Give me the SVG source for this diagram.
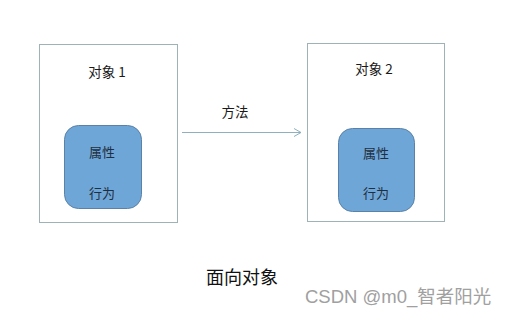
<svg xmlns="http://www.w3.org/2000/svg" width="510" height="312" viewBox="0 0 510 312">
<style>
.obj{fill:#ffffff;stroke:#9db3b8;stroke-width:1}
.inner{fill:#6fa6d8;stroke:#5b82a6;stroke-width:1}
.t{font-family:"Noto Sans CJK SC",sans-serif;font-size:13.5px;fill:#1a1a1a;text-anchor:middle}
.ti{font-family:"Noto Sans CJK SC",sans-serif;font-size:13px;fill:#1f2f40;text-anchor:middle}
.conn{stroke:#8fb0bc;stroke-width:1;fill:none}
</style>
<defs>
<marker id="arr" markerWidth="10" markerHeight="10" refX="8" refY="5" orient="auto" markerUnits="userSpaceOnUse">
<path d="M1,1 L8,5 L1,9" fill="none" stroke="#8fb0bc" stroke-width="1"/>
</marker>
</defs>
<rect width="510" height="312" fill="#ffffff"/>
<g id="obj1">
<rect class="obj" x="39.5" y="44.5" width="138" height="178"/>
<text class="t" x="107" y="77">对象 1</text>
<g id="obj1-inner">
<rect class="inner" x="64.5" y="125.5" width="77" height="83" rx="14"/>
<text class="ti" x="102" y="157">属性</text>
<text class="ti" x="102" y="198">行为</text>
</g>
</g>
<g id="obj2">
<rect class="obj" x="307.5" y="43.5" width="137" height="178"/>
<text class="t" x="374" y="74">对象 2</text>
<g id="obj2-inner">
<rect class="inner" x="338.5" y="128.5" width="76" height="83" rx="14"/>
<text class="ti" x="376" y="158">属性</text>
<text class="ti" x="376" y="198">行为</text>
</g>
</g>
<g id="connectors">
<line class="conn" x1="182" y1="132.5" x2="301" y2="132.5" marker-end="url(#arr)"/>
<text class="t" x="235" y="117">方法</text>
</g>
<text x="242" y="284" font-family="Noto Sans CJK SC,sans-serif" font-size="18" fill="#111" text-anchor="middle">面向对象</text>
<text x="305" y="303" font-family="Liberation Sans,Noto Sans CJK SC,sans-serif" font-size="18.5" fill="#a0a0a0">CSDN @m0_智者阳光</text>
</svg>
